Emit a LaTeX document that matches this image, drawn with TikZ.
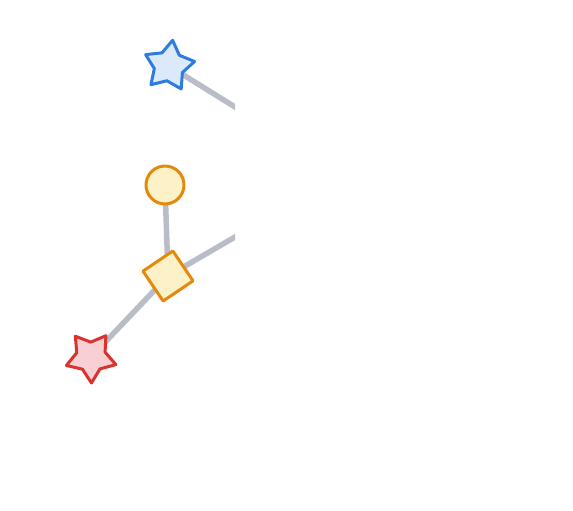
\documentclass[tikz,border=0pt]{standalone}
\begin{document}
\begin{tikzpicture}[x=1pt,y=-1pt,
  linkfill/.style={fill={rgb,255:red,185;green,189;blue,199}},
  link/.style={line width=5.5pt,draw={rgb,255:red,185;green,189;blue,199}},
  blueshape/.style={line width=3pt,line join=round,draw={rgb,255:red,44;green,125;blue,223},fill={rgb,255:red,220;green,233;blue,251}},
  orangeshape/.style={line width=3pt,line join=round,draw={rgb,255:red,227;green,138;blue,12},fill={rgb,255:red,253;green,241;blue,199}},
  redshape/.style={line width=3pt,line join=round,draw={rgb,255:red,216;green,51;blue,46},fill={rgb,255:red,248;green,208;blue,211}}]
\useasboundingbox (0,0) rectangle (573,511);
\coordinate (s1) at (169,66);
\coordinate (c1) at (165,185);
\coordinate (d1) at (168,276);
\coordinate (s2) at (91,357);
\coordinate (e1) at (235,107);
\coordinate (e2) at (235,237);
% connectors (the two that leave the view end in a vertical cut)
\fill[linkfill] (169,62.76) -- (235,103.76) -- (235,110.24) -- (169,69.24) -- cycle;
\fill[linkfill] (168,272.82) -- (235,233.82) -- (235,240.18) -- (168,279.18) -- cycle;
\draw[link] (c1) -- (d1);
\draw[link] (d1) -- (s2);
% blue star, top point tilted 8 degrees clockwise
\begin{scope}[shift={(169,66)}]
\draw[blueshape]
  (-82:26) -- (-46:14.9) -- (-10:26) -- (26:14.9) -- (62:26) -- (98:14.9)
  -- (134:26) -- (170:14.9) -- (206:26) -- (242:14.9) -- cycle;
\end{scope}
% orange circle
\draw[orangeshape] (c1) circle[radius=19];
% orange square, turned
\begin{scope}[shift={(168,276)}]
\draw[orangeshape]
  (-79:25.5) -- (-169:25.5) -- (-259:25.5) -- (-349:25.5) -- cycle;
\end{scope}
% red star, pointing down
\begin{scope}[shift={(91,357)}]
\draw[redshape]
  (-127:26) -- (-91:14.9) -- (-55:26) -- (-19:14.9) -- (17:26) -- (53:14.9)
  -- (89:26) -- (125:14.9) -- (161:26) -- (197:14.9) -- cycle;
\end{scope}
\end{tikzpicture}
\end{document}
